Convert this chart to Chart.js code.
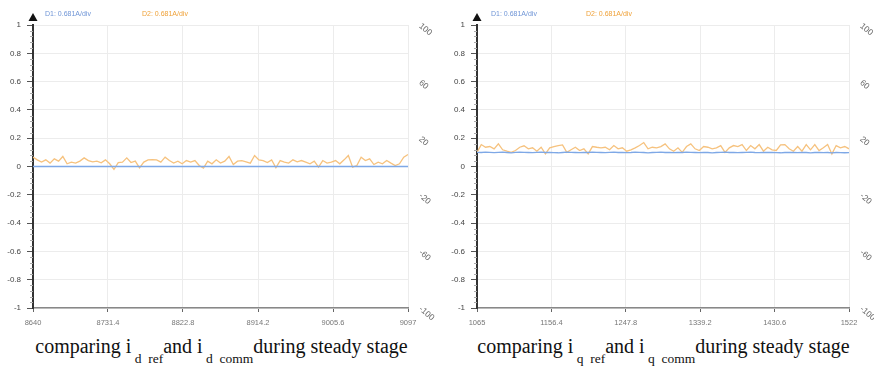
<!DOCTYPE html>
<html>
<head>
<meta charset="utf-8">
<script src="https://cdn.jsdelivr.net/npm/chart.js@4"></script>
<style>
  body { margin: 0; background: #fff; width: 874px; height: 371px; overflow: hidden; position: relative; }
  .panel { position: absolute; top: 0; width: 437px; height: 371px; }
  .panel canvas { position: absolute; left: 0; top: 0; }
  .caption { position: absolute; top: 335px; width: 437px; text-align: center;
    font-family: 'Liberation Serif', 'Times New Roman', serif; font-size: 20px; color: #111; white-space: nowrap; }
  .caption sub { font-size: 13.5px; vertical-align: -10px; line-height: 0; }
</style>
</head>
<body>
<div class="panel" style="left:0"><canvas id="chartD" width="437" height="330"></canvas>
  <div class="caption" style="left:3px">comparing i<sub>&nbsp;d&nbsp; ref</sub>and i<sub>&nbsp;d&nbsp; comm</sub>during steady stage</div></div>
<div class="panel" style="left:437px"><canvas id="chartQ" width="437" height="330"></canvas>
  <div class="caption" style="left:8px">comparing i<sub>&nbsp;q&nbsp; ref</sub>and i<sub>&nbsp;q&nbsp; comm</sub>during steady stage</div></div>
<script>
// tick labels
const yTicks = [1, 0.8, 0.6, 0.4, 0.2, 0, -0.2, -0.4, -0.6, -0.8, -1];
const y2Ticks = [100, 60, 20, -20, -60, -100];
const xTicksD = [8640, 8731.4, 8822.8, 8914.2, 9005.6, 9097];
const xTicksQ = [1065, 1156.4, 1247.8, 1339.2, 1430.6, 1522];
const legendLabels = ['D1: 0.681A/div', 'D2: 0.681A/div'];

// d-axis current (steady stage)
const idRef = [0, 0, 0, 0, 0, 0, 0, 0, 0, 0, 0, 0, 0, 0, 0, 0, 0, 0, 0, 0, 0, 0, 0, 0, 0, 0, 0, 0, 0, 0,
  0, 0, 0, 0, 0, 0, 0, 0, 0, 0, 0, 0, 0, 0, 0, 0, 0, 0, 0, 0, 0, 0, 0, 0, 0, 0, 0, 0, 0, 0,
  0, 0, 0, 0, 0, 0, 0, 0, 0, 0, 0, 0, 0, 0, 0, 0, 0, 0, 0, 0, 0, 0, 0, 0, 0, 0, 0, 0, 0];
const idComm = [0.066, 0.047, 0.031, 0.047, 0.024, 0.054, 0.038, 0.071, 0.019, 0.031,
  0.024, 0.038, 0.061, 0.042, 0.033, 0.038, 0.026, 0.047, 0.019, -0.021,
  0.028, 0.031, 0.061, 0.028, 0.038, -0.009, 0.031, 0.047, 0.049, 0.047,
  0.031, 0.066, 0.042, 0.024, 0.038, 0.019, 0.042, 0.031, 0.042, 0.007,
  -0.012, 0.038, 0.019, 0.047, 0.024, 0.038, 0.071, 0.014, 0.038, 0.042,
  0.033, 0.024, 0.078, 0.047, 0.042, 0.028, 0.047, -0.009, 0.042, 0.031,
  0.024, 0.047, 0.033, 0.042, 0.031, 0.019, 0.038, -0.005, 0.042, 0.024,
  0.031, 0.042, 0.019, 0.047, 0.078, -0.005, 0.007, 0.066, 0.042, 0.054,
  0.014, 0.031, 0.019, 0.042, 0.024, 0.007, 0.019, 0.066, 0.085];

// q-axis current (steady stage)
const iqRef = [0.100, 0.099, 0.101, 0.100, 0.098, 0.100, 0.101, 0.099, 0.097, 0.100,
  0.101, 0.100, 0.099, 0.098, 0.100, 0.101, 0.099, 0.100, 0.098, 0.097,
  0.099, 0.101, 0.100, 0.099, 0.098, 0.100, 0.099, 0.101, 0.100, 0.099,
  0.098, 0.100, 0.101, 0.099, 0.100, 0.098, 0.099, 0.101, 0.100, 0.099,
  0.097, 0.099, 0.100, 0.101, 0.099, 0.100, 0.098, 0.100, 0.099, 0.101,
  0.100, 0.099, 0.098, 0.100, 0.099, 0.097, 0.099, 0.100, 0.101, 0.099,
  0.100, 0.098, 0.099, 0.100, 0.101, 0.099, 0.098, 0.100, 0.099, 0.100,
  0.098, 0.097, 0.099, 0.100, 0.099, 0.098, 0.100, 0.099, 0.097, 0.099,
  0.100, 0.098, 0.099, 0.097, 0.099, 0.098, 0.097, 0.098];
const iqComm = [0.100, 0.155, 0.136, 0.141, 0.125, 0.160, 0.118, 0.108, 0.100, 0.113,
  0.136, 0.146, 0.125, 0.132, 0.108, 0.136, 0.089, 0.132, 0.141, 0.148,
  0.153, 0.100, 0.118, 0.136, 0.113, 0.125, 0.089, 0.141, 0.136, 0.132,
  0.136, 0.118, 0.148, 0.125, 0.132, 0.108, 0.118, 0.132, 0.148, 0.169,
  0.125, 0.136, 0.132, 0.141, 0.160, 0.125, 0.108, 0.132, 0.100, 0.141,
  0.160, 0.125, 0.113, 0.141, 0.136, 0.125, 0.132, 0.148, 0.100, 0.132,
  0.148, 0.141, 0.155, 0.113, 0.148, 0.125, 0.155, 0.108, 0.136, 0.118,
  0.113, 0.153, 0.155, 0.125, 0.108, 0.141, 0.108, 0.155, 0.118, 0.155,
  0.113, 0.132, 0.155, 0.089, 0.148, 0.132, 0.141, 0.125];

const blue = '#7ea8e6';
const orange = '#f6c27e';
const legendColors = ['#6f95d6', '#efa23a'];

// sample i sits at the i-th step of the evenly sampled window
function toPoints(values, xTicks) {
    const x0 = xTicks[0], x1 = xTicks[xTicks.length - 1];
    return values.map((v, i) => ({ x: x0 + i * (x1 - x0) / (values.length - 1), y: v }));
}

const scopeDecor = {
    id: 'scopeDecor',
    afterDraw(chart, args, opts) {
        const ctx = chart.ctx;
        const area = chart.chartArea;
        const y = chart.scales.y;
        ctx.save();
        // minor ticks on the left axis
        ctx.strokeStyle = '#aaa';
        ctx.lineWidth = 1;
        for (let k = -25; k <= 25; k++) {
            if (k % 5 === 0) continue;
            const py = Math.round(y.getPixelForValue(k * 0.04)) + 0.5;
            ctx.beginPath();
            ctx.moveTo(area.left - 3, py);
            ctx.lineTo(area.left, py);
            ctx.stroke();
        }
        // arrow head at top of the axis
        ctx.fillStyle = '#111';
        ctx.beginPath();
        ctx.moveTo(area.left, area.top - 12);
        ctx.lineTo(area.left - 4.5, area.top - 4);
        ctx.lineTo(area.left + 4.5, area.top - 4);
        ctx.closePath();
        ctx.fill();
        // channel labels
        ctx.font = '7px "Liberation Sans", Arial, sans-serif';
        ctx.textBaseline = 'middle';
        ctx.fillStyle = legendColors[0];
        ctx.fillText(legendLabels[0], area.left + opts.d1, 14);
        ctx.fillStyle = legendColors[1];
        ctx.fillText(legendLabels[1], area.left + 109, 14);
        ctx.restore();
    }
};

function makeChart(id, refVals, commVals, xTicks, leftW, rightW, d1) {
    new Chart(document.getElementById(id), {
        type: 'line',
        data: {
            datasets: [{
                label: legendLabels[0],
                data: toPoints(refVals, xTicks),
                borderColor: blue,
                borderWidth: 1.3,
                pointRadius: 0,
                tension: 0
            }, {
                label: legendLabels[1],
                data: toPoints(commVals, xTicks),
                borderColor: orange,
                borderWidth: 1.3,
                pointRadius: 0,
                tension: 0
            }]
        },
        options: {
            responsive: false,
            animation: false,
            layout: { padding: { top: 25, left: 0, right: 0, bottom: 0 } },
            plugins: { legend: { display: false }, tooltip: { enabled: false }, scopeDecor: { d1: d1 } },
            scales: {
                x: {
                    type: 'linear',
                    min: xTicks[0],
                    max: xTicks[xTicks.length - 1],
                    afterBuildTicks: s => { s.ticks = xTicks.map(v => ({ value: v })); },
                    afterFit: s => { s.height = 22; },
                    grid: { color: '#ececec', tickColor: '#666', tickLength: 4 },
                    border: { color: '#888', width: 1.5 },
                    ticks: {
                        color: '#777',
                        font: { size: 7.5, family: '"Liberation Sans", Arial, sans-serif' },
                        maxRotation: 0, minRotation: 0, padding: 6,
                        callback: v => String(v)
                    }
                },
                y: {
                    min: -1, max: 1,
                    afterBuildTicks: s => { s.ticks = yTicks.map(v => ({ value: v })); },
                    afterFit: s => { s.width = leftW; },
                    grid: { color: '#ececec', tickColor: '#555', tickLength: 6 },
                    border: { color: '#333', width: 2 },
                    ticks: {
                        color: '#444', padding: 6,
                        font: { size: 8, family: '"Liberation Sans", Arial, sans-serif' },
                        callback: v => String(v)
                    }
                },
                y2: {
                    position: 'right',
                    min: -100, max: 100,
                    afterBuildTicks: s => { s.ticks = y2Ticks.map(v => ({ value: v })); },
                    afterFit: s => { s.width = rightW; },
                    grid: { drawOnChartArea: false, drawTicks: false },
                    border: { display: false },
                    ticks: {
                        color: '#666', padding: 12,
                        minRotation: -40, maxRotation: -40,
                        font: { size: 8.5, family: '"Liberation Sans", Arial, sans-serif' },
                        callback: v => String(v)
                    }
                }
            }
        },
        plugins: [scopeDecor]
    });
}

makeChart('chartD', idRef, idComm, xTicksD, 33, 29, 12);
makeChart('chartQ', iqRef, iqComm, xTicksQ, 40, 25, 14);
</script>
</body>
</html>
